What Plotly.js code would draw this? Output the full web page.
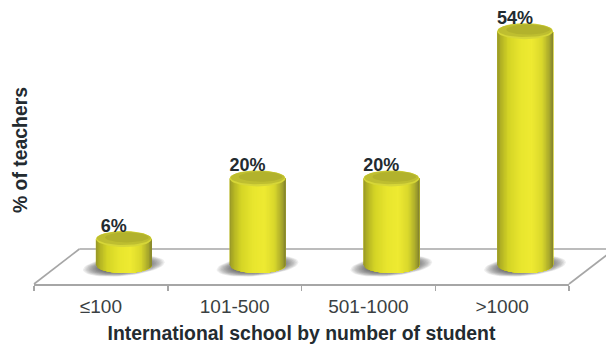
<!DOCTYPE html>
<html>
<head>
<meta charset="utf-8">
<script src="https://cdn.plot.ly/plotly-3.0.1.min.js"></script>
<style>html,body{margin:0;padding:0;background:#fff;overflow:hidden}</style>
</head>
<body>
<div id="chart" style="width:606px;height:350px"></div>
<script>
// Share of teachers by size of international school
const categories = ['≤100', '101-500', '501-1000', '>1000'];
const teacherShare = [6, 20, 20, 54];

// Plot frame in pixels; one category is 134 px wide, one percent is 4.33 px tall
const W = 606, H = 350, marginL = 33.5, marginR = 36.5, marginT = 16, marginB = 66;
const pxPerCat = 134, pxPerPct = 4.33;
const plotW = W - marginL - marginR, plotH = H - marginT - marginB;
const dx = p => p / pxPerCat;   // horizontal pixels to axis units
const dy = p => p / pxPerPct;   // vertical pixels to axis units
const y0Px = 265;
const yAt = p => (y0Px - p) / pxPerPct;
const paperX = p => (p - marginL) / plotW;
const paperY = p => (H - marginB - p) / plotH;

// Cylinder geometry
const depthShift = dx(23), rx = dx(28), ry = dy(8);
const yBottom = -(284 - y0Px) / pxPerPct;
const yTop = (y0Px - marginT) / pxPerPct;

// Horizontal shading across a cylinder's side
const sideStops = [
  [0.00, [150, 150, 40]], [0.07, [178, 178, 36]], [0.20, [212, 212, 38]],
  [0.42, [232, 230, 46]], [0.62, [238, 234, 50]], [0.80, [218, 216, 44]],
  [0.93, [170, 170, 44]], [1.00, [128, 128, 46]]
];
function shade(t) {
  for (let i = 1; i < sideStops.length; i++) {
    const [a, ca] = sideStops[i - 1], [b, cb] = sideStops[i];
    if (t <= b) {
      const k = (t - a) / (b - a);
      return 'rgb(' + ca.map((c, j) => Math.round(c + (cb[j] - c) * k)).join(',') + ')';
    }
  }
  return 'rgb(128,128,46)';
}

function ellipse(cx, cy, a, b, tilt) {
  const xs = [], ys = [];
  for (let k = 0; k <= 48; k++) {
    const th = k / 48 * 2 * Math.PI;
    const ex = a * Math.cos(th), ey = b * Math.sin(th);
    xs.push(cx + ex);
    ys.push(cy + ey + (tilt || 0) * ex);
  }
  return [xs, ys];
}
function filled(polys, color, name) {
  const x = [], y = [];
  polys.forEach(([px, py]) => { x.push(...px, null); y.push(...py, null); });
  return { type: 'scatter', mode: 'lines', x, y, fill: 'toself', fillcolor: color,
           line: { width: 0, color }, hoverinfo: 'skip', showlegend: false,
           cliponaxis: false, name };
}
const centers = categories.map((_, i) => i + depthShift);

const traces = [];

// The values themselves, as plain bars behind the rounded sides
traces.push({
  type: 'bar', x: centers, y: teacherShare, width: 2 * rx,
  marker: { color: 'rgb(232,230,46)', line: { width: 0 } },
  hoverinfo: 'x+y', showlegend: false
});

// Soft contact shadows, built from stacked translucent ellipses
const shadowLayers = 14;
for (let s = 0; s < shadowLayers; s++) {
  const f = 1 - s * 0.035;
  traces.push(filled(
    centers.map(c => ellipse(c, yAt(266), dx(41) * f, dy(10) * f, 0.09 * pxPerCat / pxPerPct)),
    'rgba(60,60,60,0.085)', 'shadow'
  ));
}

// Cylinder sides painted left to right; each strip runs to the right edge so no seams show
const strips = 40;
for (let s = 0; s < strips; s++) {
  const polys = centers.map((c, i) => {
    const a = -1 + 2 * s / strips;
    const xs = [c + a * rx], ys = [teacherShare[i]];
    for (let k = 0; k <= 30; k++) {
      const u = a + (1 - a) * k / 30;
      xs.push(c + u * rx);
      ys.push(-ry * Math.sqrt(Math.max(0, 1 - u * u)));
    }
    xs.push(c + rx);
    ys.push(teacherShare[i]);
    return [xs, ys];
  });
  traces.push(filled(polys, shade((s + 0.5) / strips), 'side'));
}

// Cylinder caps: a light rim with a darker olive face
traces.push(filled(centers.map((c, i) => ellipse(c, teacherShare[i], rx, ry)), 'rgb(214,214,56)', 'rim'));
traces.push(filled(centers.map((c, i) => ellipse(c, teacherShare[i] + dy(0.8), rx * 0.97, ry * 0.84)), 'rgb(190,190,48)', 'cap'));
traces.push(filled(centers.map((c, i) => ellipse(c + dx(3), teacherShare[i] + dy(1.6), rx * 0.78, ry * 0.62)), 'rgb(178,178,44)', 'cap'));

// Percentage labels above each cap
traces.push({
  type: 'scatter', mode: 'text',
  x: centers.map(c => c - dx(10)),
  y: teacherShare.map(v => v + dy(12)),
  text: teacherShare.map(v => v + '%'),
  textposition: 'middle center',
  textfont: { family: 'Liberation Sans, Arial, sans-serif', size: 18, color: '#232b30', weight: 700 },
  hoverinfo: 'skip', showlegend: false, cliponaxis: false
});

// Floor outline in page coordinates so it can run past the plot's right edge
const floorLine = { color: '#a6a6a6', width: 1.6 };
const floorSegment = (x0, y0, x1, y1) => ({
  type: 'line', xref: 'paper', yref: 'paper', layer: 'below',
  x0: paperX(x0), y0: paperY(y0), x1: paperX(x1), y1: paperY(y1), line: floorLine
});
const floorShapes = [
  floorSegment(33.5, 284, 79, 249),
  floorSegment(79, 249, 610, 249),
  floorSegment(569.5, 284, 610, 253)
];

const layout = {
  width: W, height: H,
  margin: { l: marginL, r: marginR, t: marginT, b: marginB, pad: 0 },
  paper_bgcolor: '#fff', plot_bgcolor: 'rgba(0,0,0,0)',
  showlegend: false, barmode: 'overlay', shapes: floorShapes,
  font: { family: 'Liberation Sans, Arial, sans-serif', color: '#333' },
  xaxis: {
    range: [-0.5, 3.5], fixedrange: true, showgrid: false, zeroline: false,
    showline: true, linecolor: '#a6a6a6', linewidth: 2,
    tickmode: 'array', tickvals: categories.map((_, i) => i), ticktext: categories,
    ticks: '', tickfont: { size: 19, color: '#3a3f42' }, ticklabelstandoff: 4,
    minor: { tickmode: 'array', tickvals: [-0.5, 0.5, 1.5, 2.5, 3.5], ticks: 'outside',
             ticklen: 5, tickcolor: '#a6a6a6', tickwidth: 1.5, showgrid: false },
    title: { text: 'International school by number of student', standoff: 11,
             font: { size: 19.4, color: '#232b30', weight: 700 } }
  },
  yaxis: {
    range: [yBottom, yTop], fixedrange: true, showgrid: false, zeroline: false,
    showline: false, showticklabels: false, ticks: '',
    title: { text: '% of teachers', standoff: 0,
             font: { size: 19.4, color: '#232b30', weight: 700 } }
  }
};

Plotly.newPlot('chart', traces, layout, { displayModeBar: false, staticPlot: true });
</script>
</body>
</html>
